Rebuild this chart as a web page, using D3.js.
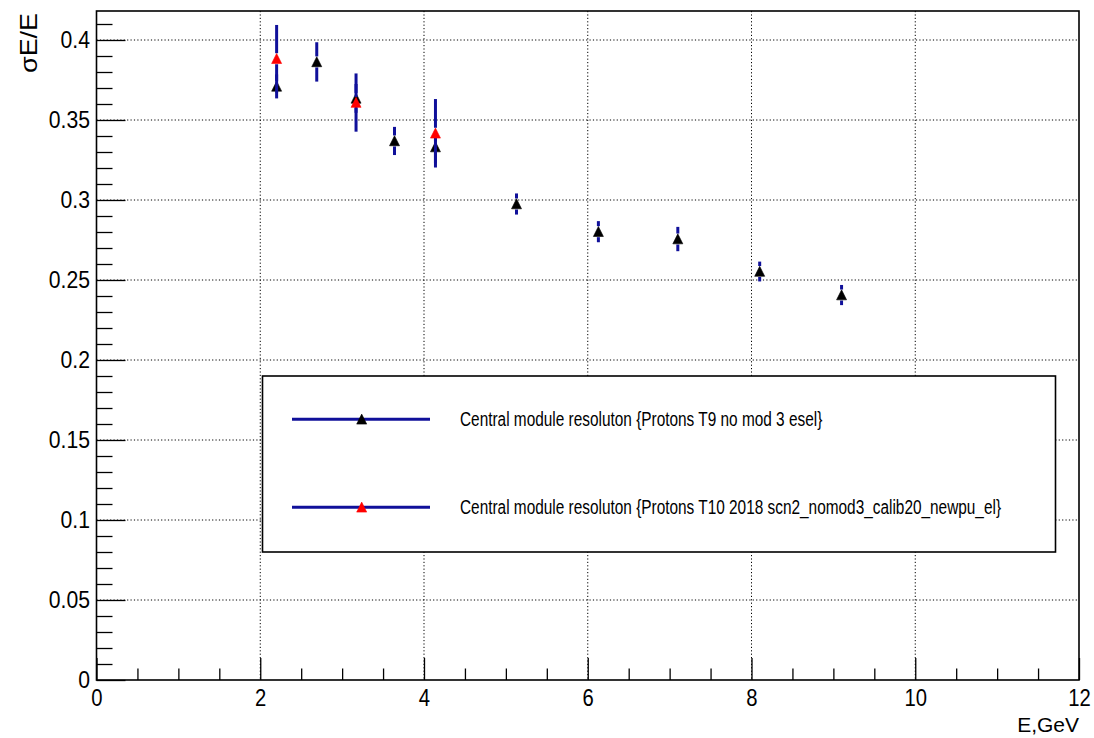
<!DOCTYPE html>
<html>
<head>
<meta charset="utf-8">
<script src="https://cdn.jsdelivr.net/npm/d3@7"></script>
<style>
  html, body { margin: 0; padding: 0; background: #fff; }
  svg { display: block; }
</style>
</head>
<body>
<svg width="1094" height="738"></svg>
<script>
// T9 series (black markers)
const t9_energy = [2.2, 2.69, 3.17, 3.64, 4.14, 5.13, 6.13, 7.10, 8.10, 9.10];
const t9_sigma  = [0.371, 0.3863, 0.3635, 0.3369, 0.3331, 0.2975, 0.2802, 0.2756, 0.2553, 0.2406];
const t9_err    = [0.0075, 0.0123, 0.009, 0.0088, 0.0102, 0.0066, 0.0066, 0.0076, 0.0062, 0.0063];

// T10 series (red markers)
const t10_energy = [2.2, 3.17, 4.14];
const t10_sigma  = [0.3883, 0.3609, 0.3417];
const t10_err    = [0.0211, 0.0182, 0.0214];

const legend_labels = [
  "Central module resoluton {Protons T9 no mod 3 esel}",
  "Central module resoluton {Protons T10 2018 scn2_nomod3_calib20_newpu_el}"
];

const x_ticks = [0, 2, 4, 6, 8, 10, 12];
const y_ticks = [0, 0.05, 0.1, 0.15, 0.2, 0.25, 0.3, 0.35, 0.4];

const plotL = 96.5, plotR = 1079, plotT = 11, plotB = 680;
const errColor = "#10109a";
const font = "'Liberation Sans', Arial, sans-serif";

const x = d3.scaleLinear().domain([0, 12]).range([plotL, plotR]);
const y = d3.scaleLinear().domain([0, 0.418125]).range([plotB, plotT]);

const svg = d3.select("svg");

// squeeze text horizontally to mimic the narrow ROOT rendering
function squeeze(sel, f) {
  sel.each(function() {
    const w = this.getComputedTextLength();
    d3.select(this).attr("textLength", w * f).attr("lengthAdjust", "spacingAndGlyphs");
  });
}

// grid
const grid = svg.append("g")
    .attr("stroke", "#000")
    .attr("stroke-width", 1)
    .attr("stroke-dasharray", "1.2,2.2");
grid.selectAll(".gx")
  .data(x_ticks.slice(1, -1))
  .join("line")
    .attr("class", "gx")
    .attr("x1", d => x(d)).attr("x2", d => x(d))
    .attr("y1", plotT).attr("y2", plotB);
grid.selectAll(".gy")
  .data(y_ticks.slice(1))
  .join("line")
    .attr("class", "gy")
    .attr("x1", plotL).attr("x2", plotR)
    .attr("y1", d => y(d)).attr("y2", d => y(d));

// minor ticks
const xMinor = d3.range(0, 12.01, 0.5).filter(v => v % 2 !== 0);
const yMinor = d3.range(0, 0.4181, 0.01).filter(v => Math.abs(v * 20 - Math.round(v * 20)) > 1e-6);

svg.append("g")
    .attr("transform", `translate(0,${plotB})`)
    .call(d3.axisBottom(x).tickValues(xMinor).tickFormat("").tickSize(-11.5))
    .call(g => g.select(".domain").remove())
    .selectAll("line").attr("stroke-width", 1.3);

svg.append("g")
    .attr("transform", `translate(${plotL},0)`)
    .call(d3.axisLeft(y).tickValues(yMinor).tickFormat("").tickSize(-16))
    .call(g => g.select(".domain").remove())
    .selectAll("line").attr("stroke-width", 1.3);

// major ticks + labels
const xAxis = svg.append("g")
    .attr("transform", `translate(0,${plotB})`)
    .call(d3.axisBottom(x).tickValues(x_ticks).tickFormat(d => d).tickSize(-22).tickPadding(10))
    .call(g => g.select(".domain").remove());
xAxis.selectAll("line").attr("stroke-width", 1.3);
xAxis.selectAll("text")
    .attr("font-family", font).attr("font-size", 23).attr("fill", "#000")
    .call(squeeze, 0.88);

const yAxis = svg.append("g")
    .attr("transform", `translate(${plotL},0)`)
    .call(d3.axisLeft(y).tickValues(y_ticks).tickFormat(d => String(+d.toFixed(2))).tickSize(-29).tickPadding(6.5))
    .call(g => g.select(".domain").remove());
yAxis.selectAll("line").attr("stroke-width", 1.3);
yAxis.selectAll("text")
    .attr("font-family", font).attr("font-size", 23).attr("fill", "#000")
    .call(squeeze, 0.92);

// frame
svg.append("rect")
    .attr("x", plotL).attr("y", plotT)
    .attr("width", plotR - plotL).attr("height", plotB - plotT)
    .attr("fill", "none").attr("stroke", "#000").attr("stroke-width", 1.6);

// axis titles
svg.append("text")
    .attr("x", plotR).attr("y", 731.5)
    .attr("text-anchor", "end")
    .attr("font-family", font).attr("font-size", 21)
    .text("E,GeV");

svg.append("text")
    .attr("transform", "translate(37,13) rotate(-90)")
    .attr("text-anchor", "end")
    .attr("font-family", font).attr("font-size", 24)
    .text("σE/E")
    .call(squeeze, 1.12);

// markers
const tri = "M0,-5.2L5,4.8L-5,4.8Z";
const gap = 5.5;

function drawSeries(ex, sy, se, color) {
  const pts = ex.map((e, i) => ({e, s: sy[i], err: se[i]}));
  const g = svg.append("g");
  g.selectAll(".up")
    .data(pts.filter(d => y(d.s) - gap > y(d.s + d.err)))
    .join("line")
      .attr("class", "up")
      .attr("x1", d => x(d.e)).attr("x2", d => x(d.e))
      .attr("y1", d => y(d.s) - gap).attr("y2", d => y(d.s + d.err))
      .attr("stroke", errColor).attr("stroke-width", 3);
  g.selectAll(".down")
    .data(pts.filter(d => y(d.s) + gap < y(d.s - d.err)))
    .join("line")
      .attr("class", "down")
      .attr("x1", d => x(d.e)).attr("x2", d => x(d.e))
      .attr("y1", d => y(d.s) + gap).attr("y2", d => y(d.s - d.err))
      .attr("stroke", errColor).attr("stroke-width", 3);
  g.selectAll(".mk")
    .data(pts)
    .join("path")
      .attr("class", "mk")
      .attr("d", tri)
      .attr("transform", d => `translate(${x(d.e)},${y(d.s)})`)
      .attr("fill", color).attr("stroke", color).attr("stroke-width", 0.6);
}

drawSeries(t9_energy, t9_sigma, t9_err, "#000");
drawSeries(t10_energy, t10_sigma, t10_err, "#ff0000");

// legend
const leg = svg.append("g");
leg.append("rect")
    .attr("x", 262.5).attr("y", 376)
    .attr("width", 793).attr("height", 176)
    .attr("fill", "#fff").attr("stroke", "#000").attr("stroke-width", 1.6);

const legColors = ["#000", "#ff0000"];
const legY = [419.3, 507.3];
legend_labels.forEach((lab, i) => {
  leg.append("line")
      .attr("x1", 292).attr("x2", 430)
      .attr("y1", legY[i]).attr("y2", legY[i])
      .attr("stroke", errColor).attr("stroke-width", 3);
  leg.append("path")
      .attr("d", tri)
      .attr("transform", `translate(361.7,${legY[i]})`)
      .attr("fill", legColors[i]).attr("stroke", legColors[i]).attr("stroke-width", 0.6);
  leg.append("text")
      .attr("transform", `translate(460,${legY[i]}) scale(0.77,1)`)
      .attr("dy", "0.35em")
      .attr("font-family", font).attr("font-size", 20)
      .text(lab);
});
</script>
</body>
</html>
